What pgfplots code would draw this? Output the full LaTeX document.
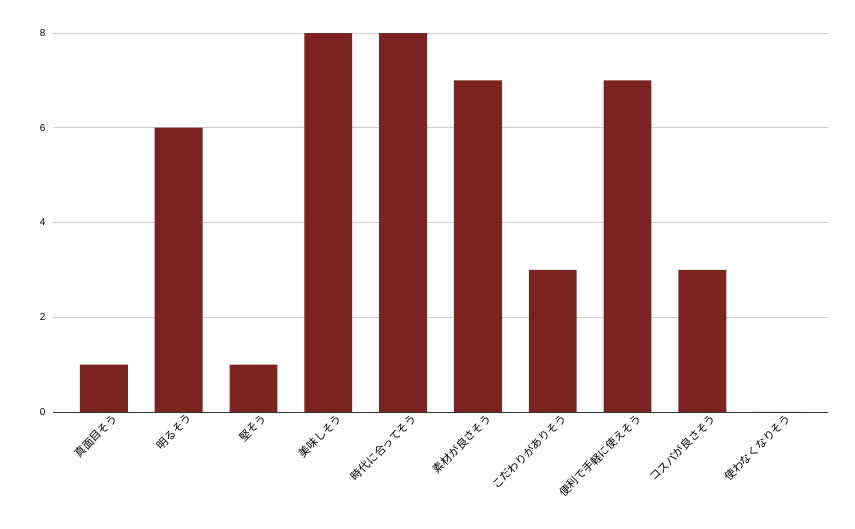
\documentclass[border=0pt]{standalone}
\usepackage{fontspec}
\setmainfont{Liberation Sans}
\newfontfamily\cjk{Noto Sans CJK JP}
\usepackage{pgfplots}
\pgfplotsset{compat=1.18}
\definecolor{barRed}{HTML}{7A2321}
\definecolor{gridGray}{HTML}{CCCCCC}
\begin{document}
\begin{tikzpicture}
  \path[use as bounding box] (-53pt,-117pt) rectangle (802pt,412pt);
  \begin{axis}[
    at={(0,0)}, anchor=south west,
    scale only axis,
    width=775pt, height=379pt,
    ybar, bar width=0.64,
    xmin=-0.68, xmax=9.68,
    ymin=0, ymax=8,
    xtick=data,
    xticklabels={真面目そう, 明るそう, 堅そう, 美味しそう, 時代に合ってそう, 素材が良さそう, こだわりがありそう, 便利で手軽に使えそう, コスパが良さそう, 使わなくなりそう},
    xticklabel style={font=\cjk\fontsize{11}{13}\selectfont, rotate=45, anchor=north east, inner sep=1pt, xshift=6pt, yshift=-5pt},
    ytick={0,2,4,6,8},
    yticklabel style={font=\fontsize{10}{12}\selectfont, xshift=-4pt},
    /pgf/number format/assume math mode=true,
    major tick length=0pt,
    ymajorgrids, grid style={gridGray, line width=0.6pt},
    axis x line*=bottom, axis y line*=left,
    x axis line style={black!80, line width=0.8pt, -},
    y axis line style={draw=none},
    clip=false,
  ]
    \addplot[fill=barRed, draw=none] coordinates {
      (0,1) (1,6) (2,1) (3,8) (4,8) (5,7) (6,3) (7,7) (8,3) (9,0)
    };
  \end{axis}
\end{tikzpicture}
\end{document}
